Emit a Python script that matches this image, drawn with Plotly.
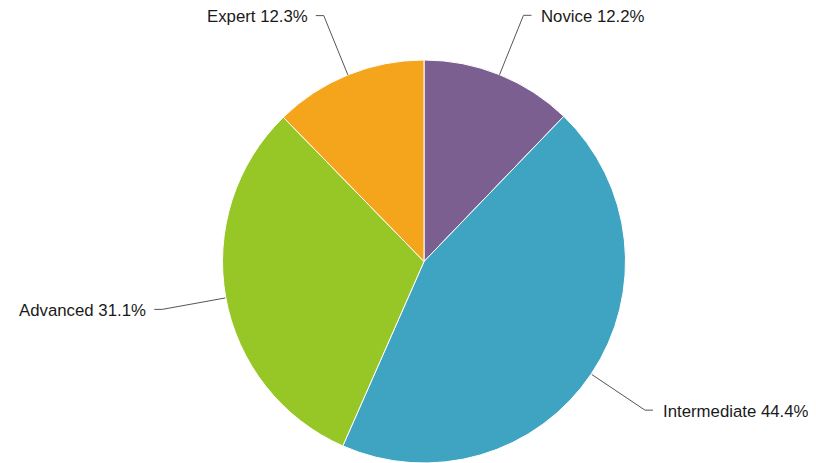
import math
import plotly.graph_objects as go

labels = ["Novice", "Intermediate", "Advanced", "Expert"]
values = [12.2, 44.4, 31.1, 12.3]
colors = ["#7b5f91", "#3fa3c2", "#97c627", "#f5a51b"]

OFF = 8  # page body margin compensation
W, H = 816 - OFF, 463 - OFF
CX, CY, R = 424 - OFF, 262 - OFF, 202  # pie centre / radius in pixels
R_OUT = 266
HSEG = 8
GAP_R, GAP_L = 8, 6

fig = go.Figure()
fig.add_trace(go.Pie(
    labels=labels, values=values, sort=False, direction="clockwise", rotation=0,
    marker=dict(colors=colors, line=dict(color="white", width=1)),
    textinfo="none", hoverinfo="label+percent", showlegend=False,
    domain=dict(x=[(CX - R) / W, (CX + R) / W], y=[max(0, 1 - (CY + R) / H), 1 - (CY - R) / H]),
))

total = sum(values)
cum = 0.0
shapes = []
annotations = []
for lab, v in zip(labels, values):
    mid = (cum + v / 2) / total * 2 * math.pi
    cum += v
    sx, sy = math.sin(mid), -math.cos(mid)
    x0, y0 = CX + R * sx, CY + R * sy
    x1, y1 = CX + R_OUT * sx, CY + R_OUT * sy
    right = sx >= 0
    x2 = x1 + (HSEG if right else -HSEG)
    px = lambda x: x / W
    py = lambda y: 1 - y / H
    path = f"M {px(x0)} {py(y0)} L {px(x1)} {py(y1)} L {px(x2)} {py(y1)}"
    shapes.append(dict(type="path", xref="paper", yref="paper", path=path,
                       line=dict(color="#555555", width=1)))
    annotations.append(dict(
        xref="paper", yref="paper", x=px(x2 + (GAP_R if right else -GAP_L)), y=py(y1 + 1),
        text=f"{lab} {v:.1f}%", showarrow=False,
        xanchor="left" if right else "right", yanchor="middle",
        font=dict(family="Liberation Sans, Arial, sans-serif", size=16.8, color="#1a1a1a"),
    ))

fig.update_layout(
    width=W, height=H, margin=dict(l=0, r=0, t=0, b=0),
    paper_bgcolor="white", plot_bgcolor="white",
    shapes=shapes, annotations=annotations,
)
fig.write_html("out.html")
